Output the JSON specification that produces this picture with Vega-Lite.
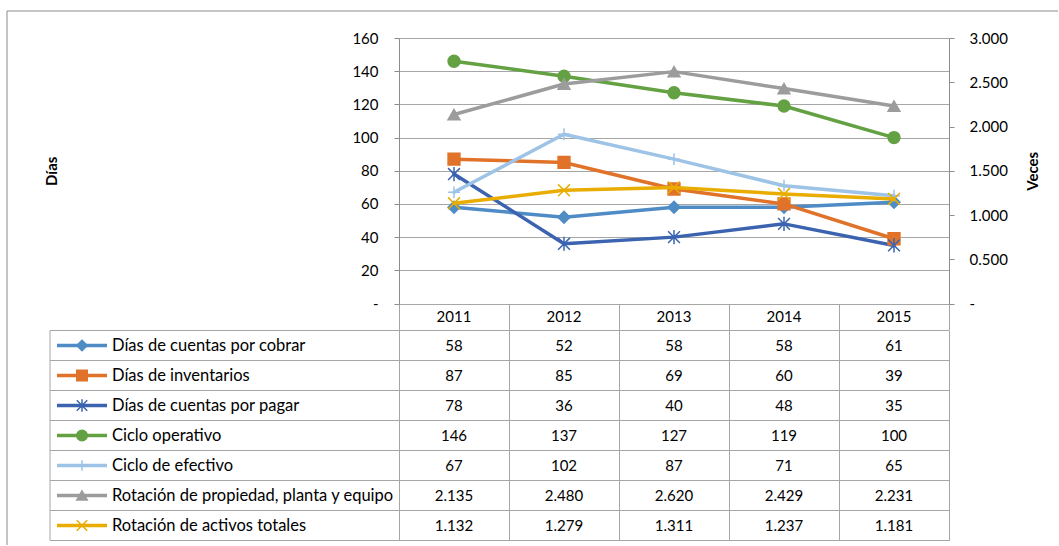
{
  "$schema": "https://vega.github.io/schema/vega-lite/v6.json",
  "padding": {"left": 6, "top": 10, "right": 0, "bottom": 0},
  "autosize": {"type": "pad"},
  "background": "white",
  "bounds": "flush",
  "spacing": 26.5,
  "config": {
    "font": "Lato",
    "view": {"stroke": null},
    "axis": {
      "labelFont": "Lato", "titleFont": "Lato", "labelFontSize": 15, "titleFontSize": 15,
      "labelColor": "#000000", "titleColor": "#000000", "titleFontWeight": "bold",
      "domainColor": "#8c8c8c", "tickColor": "#8c8c8c", "gridColor": "#a6a6a6"
    },
    "text": {"font": "Lato", "fontSize": 15, "color": "#000000"}
  },
  "datasets": {
    "indicadores": [
      {"serie": "Días de cuentas por cobrar", "eje": "dias", "anio": 2011, "valor": 58},
      {"serie": "Días de cuentas por cobrar", "eje": "dias", "anio": 2012, "valor": 52},
      {"serie": "Días de cuentas por cobrar", "eje": "dias", "anio": 2013, "valor": 58},
      {"serie": "Días de cuentas por cobrar", "eje": "dias", "anio": 2014, "valor": 58},
      {"serie": "Días de cuentas por cobrar", "eje": "dias", "anio": 2015, "valor": 61},
      {"serie": "Días de inventarios", "eje": "dias", "anio": 2011, "valor": 87},
      {"serie": "Días de inventarios", "eje": "dias", "anio": 2012, "valor": 85},
      {"serie": "Días de inventarios", "eje": "dias", "anio": 2013, "valor": 69},
      {"serie": "Días de inventarios", "eje": "dias", "anio": 2014, "valor": 60},
      {"serie": "Días de inventarios", "eje": "dias", "anio": 2015, "valor": 39},
      {"serie": "Días de cuentas por pagar", "eje": "dias", "anio": 2011, "valor": 78},
      {"serie": "Días de cuentas por pagar", "eje": "dias", "anio": 2012, "valor": 36},
      {"serie": "Días de cuentas por pagar", "eje": "dias", "anio": 2013, "valor": 40},
      {"serie": "Días de cuentas por pagar", "eje": "dias", "anio": 2014, "valor": 48},
      {"serie": "Días de cuentas por pagar", "eje": "dias", "anio": 2015, "valor": 35},
      {"serie": "Ciclo operativo", "eje": "dias", "anio": 2011, "valor": 146},
      {"serie": "Ciclo operativo", "eje": "dias", "anio": 2012, "valor": 137},
      {"serie": "Ciclo operativo", "eje": "dias", "anio": 2013, "valor": 127},
      {"serie": "Ciclo operativo", "eje": "dias", "anio": 2014, "valor": 119},
      {"serie": "Ciclo operativo", "eje": "dias", "anio": 2015, "valor": 100},
      {"serie": "Ciclo de efectivo", "eje": "dias", "anio": 2011, "valor": 67},
      {"serie": "Ciclo de efectivo", "eje": "dias", "anio": 2012, "valor": 102},
      {"serie": "Ciclo de efectivo", "eje": "dias", "anio": 2013, "valor": 87},
      {"serie": "Ciclo de efectivo", "eje": "dias", "anio": 2014, "valor": 71},
      {"serie": "Ciclo de efectivo", "eje": "dias", "anio": 2015, "valor": 65},
      {"serie": "Rotación de propiedad, planta y equipo", "eje": "veces", "anio": 2011, "valor": 2.135},
      {"serie": "Rotación de propiedad, planta y equipo", "eje": "veces", "anio": 2012, "valor": 2.480},
      {"serie": "Rotación de propiedad, planta y equipo", "eje": "veces", "anio": 2013, "valor": 2.620},
      {"serie": "Rotación de propiedad, planta y equipo", "eje": "veces", "anio": 2014, "valor": 2.429},
      {"serie": "Rotación de propiedad, planta y equipo", "eje": "veces", "anio": 2015, "valor": 2.231},
      {"serie": "Rotación de activos totales", "eje": "veces", "anio": 2011, "valor": 1.132},
      {"serie": "Rotación de activos totales", "eje": "veces", "anio": 2012, "valor": 1.279},
      {"serie": "Rotación de activos totales", "eje": "veces", "anio": 2013, "valor": 1.311},
      {"serie": "Rotación de activos totales", "eje": "veces", "anio": 2014, "valor": 1.237},
      {"serie": "Rotación de activos totales", "eje": "veces", "anio": 2015, "valor": 1.181}
    ]
  },
  "vconcat": [
    {
      "width": 550,
      "height": 265.5,
      "data": {"name": "indicadores"},
      "encoding": {
        "x": {
          "field": "anio", "type": "quantitative", "title": null,
          "scale": {"domain": [2010.5, 2015.5], "nice": false, "zero": false},
          "axis": {"values": [2010.5, 2011.5, 2012.5, 2013.5, 2014.5, 2015.5], "labels": false, "domain": false, "grid": false, "tickSize": 26.5, "tickColor": "#a6a6a6"}
        }
      },
      "layer": [
        {
          "encoding": {
            "y": {
              "field": "valor", "type": "quantitative", "title": "Días",
              "scale": {"domain": [0, 160], "nice": false, "zero": true},
              "axis": {
                "values": [0, 20, 40, 60, 80, 100, 120, 140, 160],
                "grid": true, "tickSize": 5, "labelPadding": 16,
                "labelExpr": "datum.value === 0 ? '-\u2007' : datum.label",
                "titlePadding": 292
              }
            }
          },
          "layer": [
            {
              "transform": [{"filter": "datum.serie === 'Días de cuentas por cobrar' && datum.anio === 2011"}],
              "mark": {"type": "rule", "color": "#8c8c8c", "strokeWidth": 1},
              "encoding": {"x": {"datum": 2006.9364}, "x2": {"datum": 2016.4909}, "y": {"datum": 176.271}}
            },
            {
              "transform": [{"filter": "datum.serie === 'Días de cuentas por cobrar' && datum.anio === 2011"}],
              "mark": {"type": "rule", "color": "#8c8c8c", "strokeWidth": 1},
              "encoding": {"x": {"datum": 2006.9364}, "y": {"datum": 176.271}, "y2": {"datum": -145.54}}
            },
            {
              "transform": [{"filter": "datum.serie === 'Días de cuentas por cobrar'"}],
              "mark": {"type": "text", "align": "center", "baseline": "middle"},
              "encoding": {"y": {"datum": -8.1356}, "text": {"field": "anio", "type": "quantitative", "format": "d"}}
            },
            {
              "transform": [{"filter": "datum.eje === 'dias'"}],
              "mark": {"type": "line", "strokeWidth": 3.5, "strokeCap": "round", "strokeJoin": "round"},
              "encoding": {
                "color": {"field": "serie", "type": "nominal", "legend": null,
                  "scale": {"domain": ["Días de cuentas por cobrar", "Días de inventarios", "Días de cuentas por pagar", "Ciclo operativo", "Ciclo de efectivo", "Rotación de propiedad, planta y equipo", "Rotación de activos totales"],
                            "range": ["#4f8cc6", "#e07229", "#3b63b0", "#63a143", "#9dc3e6", "#9c9c9c", "#e8ad00"]}}
              }
            },
            {
              "transform": [{"filter": "datum.eje === 'dias'"}],
              "mark": {"type": "point", "filled": true, "opacity": 1, "size": 140, "strokeWidth": 1.5},
              "encoding": {
                "color": {"field": "serie", "type": "nominal", "legend": null,
                  "scale": {"domain": ["Días de cuentas por cobrar", "Días de inventarios", "Días de cuentas por pagar", "Ciclo operativo", "Ciclo de efectivo", "Rotación de propiedad, planta y equipo", "Rotación de activos totales"],
                            "range": ["#4f8cc6", "#e07229", "#3b63b0", "#63a143", "#9dc3e6", "#9c9c9c", "#e8ad00"]}},
                "stroke": {"field": "serie", "type": "nominal", "legend": null,
                  "scale": {"domain": ["Días de cuentas por cobrar", "Días de inventarios", "Días de cuentas por pagar", "Ciclo operativo", "Ciclo de efectivo", "Rotación de propiedad, planta y equipo", "Rotación de activos totales"],
                            "range": ["#4f8cc6", "#e07229", "#3b63b0", "#63a143", "#9dc3e6", "#9c9c9c", "#e8ad00"]}},
                "shape": {"field": "serie", "type": "nominal", "legend": null,
                  "scale": {"domain": ["Días de cuentas por cobrar", "Días de inventarios", "Días de cuentas por pagar", "Ciclo operativo", "Ciclo de efectivo", "Rotación de propiedad, planta y equipo", "Rotación de activos totales"],
                            "range": ["diamond", "square", "M-1,-1L1,1M-1,1L1,-1M0,-1.2L0,1.2", "circle", "M-1,0L1,0M0,-1L0,1", "triangle-up", "M-1,-1L1,1M-1,1L1,-1"]}}
              }
            }
          ]
        },
        {
          "transform": [{"filter": "datum.eje === 'veces'"}],
          "encoding": {
            "y": {
              "field": "valor", "type": "quantitative", "title": "Veces",
              "scale": {"domain": [0, 3], "nice": false, "zero": true},
              "axis": {
                "orient": "right", "values": [0, 0.5, 1, 1.5, 2, 2.5, 3], "format": ".3f",
                "grid": false, "tickSize": 5, "labelPadding": 15,
                "labelExpr": "datum.value === 0 ? '-' : datum.label",
                "titleAngle": -90, "titleBaseline": "top", "titlePadding": 18.5
              }
            }
          },
          "layer": [
            {
              "mark": {"type": "line", "strokeWidth": 3.5, "strokeCap": "round", "strokeJoin": "round"},
              "encoding": {
                "color": {"field": "serie", "type": "nominal", "legend": null,
                  "scale": {"domain": ["Días de cuentas por cobrar", "Días de inventarios", "Días de cuentas por pagar", "Ciclo operativo", "Ciclo de efectivo", "Rotación de propiedad, planta y equipo", "Rotación de activos totales"],
                            "range": ["#4f8cc6", "#e07229", "#3b63b0", "#63a143", "#9dc3e6", "#9c9c9c", "#e8ad00"]}}
              }
            },
            {
              "mark": {"type": "point", "filled": true, "opacity": 1, "size": 140, "strokeWidth": 1.5},
              "encoding": {
                "color": {"field": "serie", "type": "nominal", "legend": null,
                  "scale": {"domain": ["Días de cuentas por cobrar", "Días de inventarios", "Días de cuentas por pagar", "Ciclo operativo", "Ciclo de efectivo", "Rotación de propiedad, planta y equipo", "Rotación de activos totales"],
                            "range": ["#4f8cc6", "#e07229", "#3b63b0", "#63a143", "#9dc3e6", "#9c9c9c", "#e8ad00"]}},
                "stroke": {"field": "serie", "type": "nominal", "legend": null,
                  "scale": {"domain": ["Días de cuentas por cobrar", "Días de inventarios", "Días de cuentas por pagar", "Ciclo operativo", "Ciclo de efectivo", "Rotación de propiedad, planta y equipo", "Rotación de activos totales"],
                            "range": ["#4f8cc6", "#e07229", "#3b63b0", "#63a143", "#9dc3e6", "#9c9c9c", "#e8ad00"]}},
                "shape": {"field": "serie", "type": "nominal", "legend": null,
                  "scale": {"domain": ["Días de cuentas por cobrar", "Días de inventarios", "Días de cuentas por pagar", "Ciclo operativo", "Ciclo de efectivo", "Rotación de propiedad, planta y equipo", "Rotación de activos totales"],
                            "range": ["diamond", "square", "M-1,-1L1,1M-1,1L1,-1M0,-1.2L0,1.2", "circle", "M-1,0L1,0M0,-1L0,1", "triangle-up", "M-1,-1L1,1M-1,1L1,-1"]}}
              }
            }
          ]
        }
      ],
      "resolve": {"scale": {"y": "independent"}}
    },
    {
      "width": 550,
      "height": 210,
      "data": {"name": "indicadores"},
      "encoding": {
        "x": {
          "field": "anio", "type": "quantitative", "title": null,
          "scale": {"domain": [2010.5, 2015.5], "nice": false, "zero": false},
          "axis": {"values": [2010.5, 2011.5, 2012.5, 2013.5, 2014.5, 2015.5], "grid": true, "gridColor": "#a6a6a6", "labels": false, "ticks": false, "domain": false}
        }
      },
      "layer": [
        {
          "transform": [{"filter": "datum.serie === 'Días de cuentas por cobrar' && datum.anio === 2011"}],
          "mark": {"type": "rule", "color": "#a6a6a6"},
          "encoding": {"x": {"datum": 2007.3273}}
        },
        {
          "transform": [{"filter": "datum.anio === 2011"}],
          "mark": {"type": "rule", "color": "#a6a6a6"},
          "encoding": {
            "x": {"datum": 2007.3273}, "x2": {"datum": 2015.5},
            "y": {"field": "serie", "type": "nominal", "bandPosition": 0, "axis": null,
              "scale": {"type": "band", "paddingInner": 0, "paddingOuter": 0, "domain": ["Días de cuentas por cobrar", "Días de inventarios", "Días de cuentas por pagar", "Ciclo operativo", "Ciclo de efectivo", "Rotación de propiedad, planta y equipo", "Rotación de activos totales"]}}
          }
        },
        {
          "transform": [{"filter": "datum.anio === 2011"}],
          "mark": {"type": "rule", "color": "#a6a6a6"},
          "encoding": {
            "x": {"datum": 2007.3273}, "x2": {"datum": 2015.5},
            "y": {"field": "serie", "type": "nominal", "bandPosition": 1, "axis": null,
              "scale": {"type": "band", "paddingInner": 0, "paddingOuter": 0, "domain": ["Días de cuentas por cobrar", "Días de inventarios", "Días de cuentas por pagar", "Ciclo operativo", "Ciclo de efectivo", "Rotación de propiedad, planta y equipo", "Rotación de activos totales"]}}
          }
        },
        {
          "transform": [{"filter": "datum.anio === 2011"}],
          "mark": {"type": "rule", "strokeWidth": 3.5},
          "encoding": {
            "x": {"datum": 2007.3909}, "x2": {"datum": 2007.8455},
            "y": {"field": "serie", "type": "nominal", "axis": null,
              "scale": {"type": "band", "paddingInner": 0, "paddingOuter": 0, "domain": ["Días de cuentas por cobrar", "Días de inventarios", "Días de cuentas por pagar", "Ciclo operativo", "Ciclo de efectivo", "Rotación de propiedad, planta y equipo", "Rotación de activos totales"]}},
            "color": {"field": "serie", "type": "nominal", "legend": null,
              "scale": {"domain": ["Días de cuentas por cobrar", "Días de inventarios", "Días de cuentas por pagar", "Ciclo operativo", "Ciclo de efectivo", "Rotación de propiedad, planta y equipo", "Rotación de activos totales"],
                        "range": ["#4f8cc6", "#e07229", "#3b63b0", "#63a143", "#9dc3e6", "#9c9c9c", "#e8ad00"]}}
          }
        },
        {
          "transform": [{"filter": "datum.anio === 2011"}],
          "mark": {"type": "point", "filled": true, "opacity": 1, "size": 110, "strokeWidth": 1.5},
          "encoding": {
            "x": {"datum": 2007.6182},
            "y": {"field": "serie", "type": "nominal", "axis": null,
              "scale": {"type": "band", "paddingInner": 0, "paddingOuter": 0, "domain": ["Días de cuentas por cobrar", "Días de inventarios", "Días de cuentas por pagar", "Ciclo operativo", "Ciclo de efectivo", "Rotación de propiedad, planta y equipo", "Rotación de activos totales"]}},
            "color": {"field": "serie", "type": "nominal", "legend": null,
              "scale": {"domain": ["Días de cuentas por cobrar", "Días de inventarios", "Días de cuentas por pagar", "Ciclo operativo", "Ciclo de efectivo", "Rotación de propiedad, planta y equipo", "Rotación de activos totales"],
                        "range": ["#4f8cc6", "#e07229", "#3b63b0", "#63a143", "#9dc3e6", "#9c9c9c", "#e8ad00"]}},
            "stroke": {"field": "serie", "type": "nominal", "legend": null,
              "scale": {"domain": ["Días de cuentas por cobrar", "Días de inventarios", "Días de cuentas por pagar", "Ciclo operativo", "Ciclo de efectivo", "Rotación de propiedad, planta y equipo", "Rotación de activos totales"],
                        "range": ["#4f8cc6", "#e07229", "#3b63b0", "#63a143", "#9dc3e6", "#9c9c9c", "#e8ad00"]}},
            "shape": {"field": "serie", "type": "nominal", "legend": null,
              "scale": {"domain": ["Días de cuentas por cobrar", "Días de inventarios", "Días de cuentas por pagar", "Ciclo operativo", "Ciclo de efectivo", "Rotación de propiedad, planta y equipo", "Rotación de activos totales"],
                        "range": ["diamond", "square", "M-1,-1L1,1M-1,1L1,-1M0,-1.2L0,1.2", "circle", "M-1,0L1,0M0,-1L0,1", "triangle-up", "M-1,-1L1,1M-1,1L1,-1"]}}
          }
        },
        {
          "transform": [{"filter": "datum.anio === 2011"}],
          "mark": {"type": "text", "align": "left", "baseline": "middle", "fontSize": 16.5},
          "encoding": {
            "x": {"datum": 2007.8909},
            "y": {"field": "serie", "type": "nominal", "axis": null,
              "scale": {"type": "band", "paddingInner": 0, "paddingOuter": 0, "domain": ["Días de cuentas por cobrar", "Días de inventarios", "Días de cuentas por pagar", "Ciclo operativo", "Ciclo de efectivo", "Rotación de propiedad, planta y equipo", "Rotación de activos totales"]}},
            "text": {"field": "serie", "type": "nominal"}
          }
        },
        {
          "transform": [{"filter": "datum.eje === 'dias'"}],
          "mark": {"type": "text", "align": "center", "baseline": "middle"},
          "encoding": {
            "y": {"field": "serie", "type": "nominal", "axis": null,
              "scale": {"type": "band", "paddingInner": 0, "paddingOuter": 0, "domain": ["Días de cuentas por cobrar", "Días de inventarios", "Días de cuentas por pagar", "Ciclo operativo", "Ciclo de efectivo", "Rotación de propiedad, planta y equipo", "Rotación de activos totales"]}},
            "text": {"field": "valor", "type": "quantitative", "format": ".0f"}
          }
        },
        {
          "transform": [{"filter": "datum.eje === 'veces'"}],
          "mark": {"type": "text", "align": "center", "baseline": "middle"},
          "encoding": {
            "y": {"field": "serie", "type": "nominal", "axis": null,
              "scale": {"type": "band", "paddingInner": 0, "paddingOuter": 0, "domain": ["Días de cuentas por cobrar", "Días de inventarios", "Días de cuentas por pagar", "Ciclo operativo", "Ciclo de efectivo", "Rotación de propiedad, planta y equipo", "Rotación de activos totales"]}},
            "text": {"field": "valor", "type": "quantitative", "format": ".3f"}
          }
        }
      ]
    }
  ]
}
